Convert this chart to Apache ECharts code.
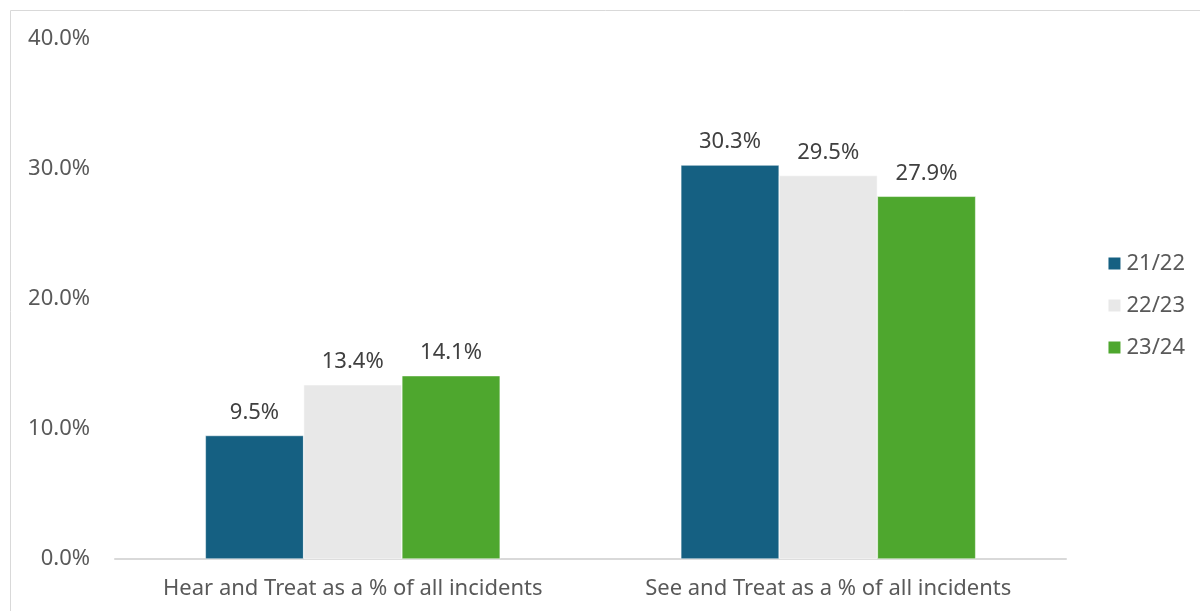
<!DOCTYPE html>
<html>
<head>
<meta charset="utf-8">
<style>
  html, body { margin: 0; padding: 0; background: #ffffff; }
  #chart { width: 1200px; height: 611px; }
</style>
<script src="https://cdn.jsdelivr.net/npm/echarts@6/dist/echarts.min.js"></script>
</head>
<body>
<div id="chart"></div>
<script>
// Incident outcome shares by financial year
const categories = ['Hear and Treat as a % of all incidents', 'See and Treat as a % of all incidents'];
const years = ['21/22', '22/23', '23/24'];
const values2122 = [9.5, 30.3];
const values2223 = [13.4, 29.5];
const values2324 = [14.1, 27.9];
const yTicks = [0, 10, 20, 30, 40];

const colors = ['#156082', '#E8E8E8', '#4EA72E'];
const seriesValues = [values2122, values2223, values2324];
const fontFamily = '"Noto Sans", "Open Sans", Arial, sans-serif';

const chart = echarts.init(document.getElementById('chart'), null, { renderer: 'canvas' });

chart.setOption({
  animation: false,
  textStyle: { fontFamily: fontFamily },
  graphic: [{
    type: 'rect',
    shape: { x: 10.5, y: 10.5, width: 1200, height: 620 },
    style: { fill: 'none', stroke: '#D9D9D9', lineWidth: 1 },
    silent: true
  }],
  grid: { left: 115, right: 134, top: 39, bottom: 52, containLabel: false },
  legend: {
    orient: 'vertical',
    right: 10,
    top: 'middle',
    itemWidth: 14,
    itemHeight: 14,
    itemGap: 20,
    icon: 'rect',
    data: years,
    textStyle: { color: '#595959', fontSize: 22, fontFamily: fontFamily }
  },
  xAxis: {
    type: 'category',
    data: categories,
    axisLine: { show: true, lineStyle: { color: '#D9D9D9', width: 2 } },
    axisTick: { show: false },
    axisLabel: { interval: 0, hideOverlap: false, color: '#595959', fontSize: 22, margin: 19, fontFamily: fontFamily }
  },
  yAxis: {
    type: 'value',
    min: yTicks[0],
    max: yTicks[yTicks.length - 1],
    interval: 10,
    axisLine: { show: false },
    axisTick: { show: false },
    splitLine: { show: false },
    axisLabel: {
      color: '#595959',
      fontSize: 22,
      margin: 25,
      fontFamily: fontFamily,
      formatter: v => v.toFixed(1) + '%'
    }
  },
  series: years.map((name, i) => ({
    name: name,
    type: 'bar',
    data: seriesValues[i],
    barGap: '0%',
    barCategoryGap: '38%',
    itemStyle: { color: colors[i], borderColor: '#ffffff', borderWidth: 0.5 },
    label: {
      show: true,
      position: 'top',
      distance: 12,
      color: '#404040',
      fontSize: 22,
      fontFamily: fontFamily,
      formatter: p => p.value.toFixed(1) + '%'
    }
  }))
});
</script>
</body>
</html>
